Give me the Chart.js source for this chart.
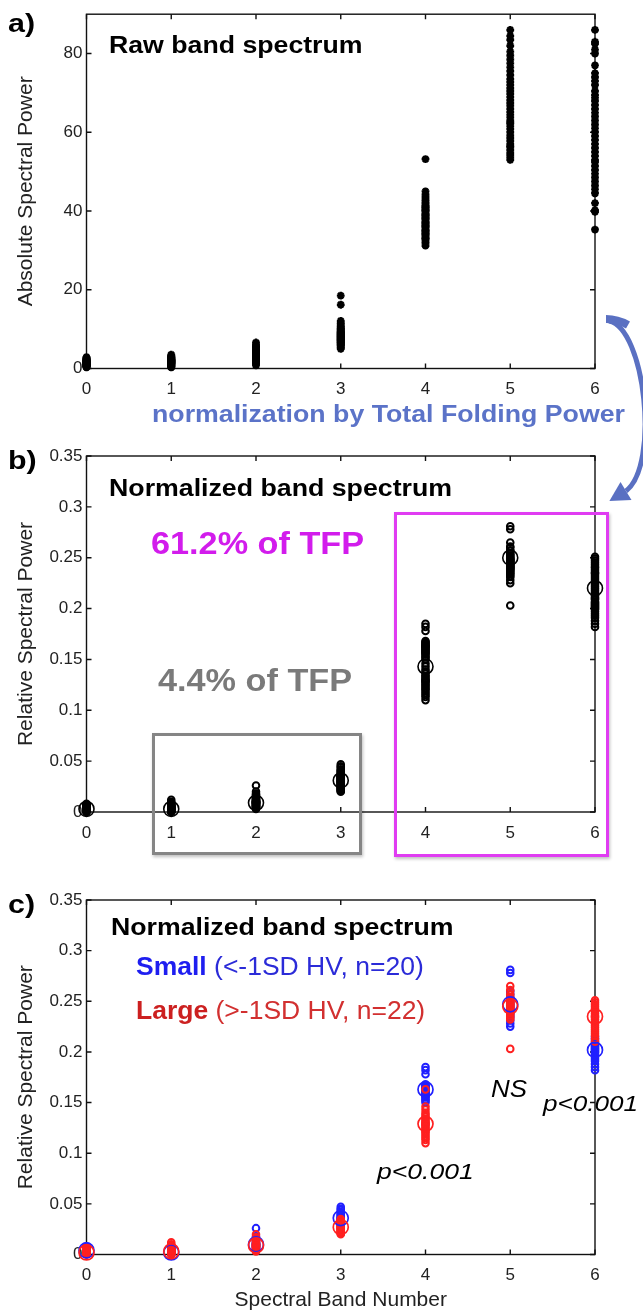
<!DOCTYPE html>
<html><head><meta charset="utf-8">
<script src="https://cdn.jsdelivr.net/npm/chart.js@4.4.1/dist/chart.umd.min.js"></script>
<style>
html,body{margin:0;padding:0;background:#fff;}
#wrap{position:relative;width:643px;height:1313px;overflow:hidden;background:#fff;}
canvas{position:absolute;left:0;}
.t{position:absolute;white-space:nowrap;line-height:1;transform-origin:0 0;font-family:'Liberation Sans',Arial,Helvetica,sans-serif;color:#000;}
.b{font-weight:bold;}
.i{font-style:italic;}
.box{position:absolute;box-sizing:border-box;}
</style></head>
<body><div id="wrap">
<canvas id="ca" width="643" height="440" style="top:0px"></canvas>
<canvas id="cb" width="643" height="440" style="top:440px"></canvas>
<canvas id="cc" width="643" height="433" style="top:880px"></canvas>

<div class="box" style="left:152px;top:733px;width:210px;height:122px;border:3.3px solid #858585;box-shadow:1px 2px 3px rgba(0,0,0,0.25);"></div>
<div class="box" style="left:394px;top:512px;width:215px;height:345px;border:3.3px solid #e03cf2;box-shadow:1px 2px 3px rgba(0,0,0,0.25);"></div>

<svg width="643" height="1313" style="position:absolute;left:0;top:0;pointer-events:none">
<defs><linearGradient id="ag" x1="0" y1="0" x2="1" y2="0">
<stop offset="0" stop-color="#8196dc"/><stop offset="1" stop-color="#4a60b6"/></linearGradient></defs>
<path d="M609 321 C645 328 660 465 626 491" fill="none" stroke="#5a70c2" stroke-width="5"/>
<path d="M606 319 C614 319 621 321 628 325" fill="none" stroke="#5a70c2" stroke-width="8"/>
<polygon points="609.4,501.1 631.5,499.9 620.5,482.1" fill="#5a70c2"/>
</svg>

<div class="t b" style="left:8px;top:9.7px;font-size:26px;transform:scaleX(1.17)">a)</div>
<div class="t b" style="left:8px;top:447px;font-size:26px;transform:scaleX(1.17)">b)</div>
<div class="t b" style="left:8px;top:891px;font-size:26px;transform:scaleX(1.17)">c)</div>

<div class="t b" style="left:109px;top:33.8px;font-size:23px;transform:scaleX(1.16)">Raw band spectrum</div>
<div class="t b" style="left:152px;top:401.7px;font-size:24px;color:#5b73c8;transform:scaleX(1.113)">normalization by Total Folding Power</div>

<div class="t b" style="left:109px;top:476.5px;font-size:23px;transform:scaleX(1.162)">Normalized band spectrum</div>
<div class="t b" style="left:150.7px;top:527.2px;font-size:32px;color:#d21cec;transform:scaleX(1.07)">61.2% of TFP</div>
<div class="t b" style="left:158px;top:663.9px;font-size:32px;color:#7a7a7a;transform:scaleX(1.07)">4.4% of TFP</div>

<div class="t b" style="left:110.7px;top:915.5px;font-size:23px;transform:scaleX(1.16)">Normalized band spectrum</div>
<div class="t" style="left:136px;top:952.6px;font-size:26.5px;color:#2b2bd8"><span class="b" style="color:#1e1ef0">Small</span> (&lt;-1SD HV, n=20)</div>
<div class="t" style="left:136px;top:996.6px;font-size:26.5px;color:#d23030"><span class="b" style="color:#cc2020">Large</span> (&gt;-1SD HV, n=22)</div>
<div class="t i" style="left:491px;top:1077px;font-size:24px;transform:scaleX(1.08)">NS</div>
<div class="t i" style="left:377px;top:1161px;font-size:22.5px;transform:scaleX(1.18)">p&lt;0.001</div>
<div class="t i" style="left:543px;top:1092.6px;font-size:22.5px;transform:scaleX(1.16)">p&lt;0.001</div>
</div>

<script>
const FONT = "'Liberation Sans', Arial, Helvetica, sans-serif";

// ---- categories & tick labels ----
const bandNumbers = [0, 1, 2, 3, 4, 5, 6];
const xTickLabels = ['0', '1', '2', '3', '4', '5', '6'];
const yTicksRaw = [0, 20, 40, 60, 80];
const yTickLabelsRaw = ['0', '20', '40', '60', '80'];
const yTicksRel = [0, 0.05, 0.1, 0.15, 0.2, 0.25, 0.3, 0.35];
const yTickLabelsRel = ['0', '0.05', '0.1', '0.15', '0.2', '0.25', '0.3', '0.35'];

// ---- a) absolute spectral power per band ----
const rawPower = [
  [0.3,0.5,0.6,0.8,0.9,1.0,1.1,1.1,1.2,1.3,1.3,1.4,1.5,1.5,1.6,1.7,1.7,1.8,1.9,2.0,2.0,2.1,2.2,2.3,2.5,2.7,2.9,0.4,0.7,1.0,1.2,1.4,1.6,1.9,0.8,1.3,1.1,1.5,0.6,2.4,1.8,1.0],
  [0.3,0.5,0.7,0.9,1.0,1.2,1.3,1.4,1.5,1.6,1.7,1.8,1.9,2.0,2.1,2.2,2.3,2.4,2.5,2.6,2.8,3.0,3.2,3.5,0.6,0.8,1.1,1.3,1.5,1.7,1.9,2.1,2.3,0.4,1.6,1.8,2.0,2.7,1.0,1.4,2.2,2.9],
  [0.8,1.1,1.4,1.7,2.0,2.2,2.4,2.6,2.8,3.0,3.1,3.2,3.3,3.4,3.5,3.6,3.7,3.8,3.9,4.0,4.2,4.4,4.6,4.8,5.0,5.3,5.7,6.1,6.6,2.5,2.9,3.3,3.6,4.1,4.5,1.9,2.7,3.0,3.4,3.8,4.3,5.5],
  [5.0,5.3,5.6,5.9,6.2,6.5,6.7,6.9,7.1,7.3,7.5,7.7,7.9,8.1,8.3,8.5,8.7,8.9,9.1,9.3,9.6,9.9,10.2,10.5,10.8,11.2,11.6,12.1,16.2,18.5,6.0,6.8,7.4,8.0,8.6,9.4,7.2,7.8,8.4,9.0,10.0,6.4],
  [31.2,31.8,32.3,32.8,33.2,33.6,34.0,34.4,34.8,35.2,35.6,36.0,36.4,36.8,37.2,37.6,38.0,38.4,38.8,39.2,39.6,40.0,40.4,40.8,41.2,41.6,42.0,42.5,43.0,43.6,44.2,45.0,53.2,33.0,35.0,37.0,39.0,41.0,34.2,36.2,38.2,40.2],
  [53.0,53.6,54.2,54.8,55.5,56.2,57.0,57.8,58.5,59.2,60.0,60.8,61.5,62.2,63.0,63.8,64.5,65.2,66.0,66.8,67.5,68.2,69.0,69.8,70.5,71.2,72.0,72.8,73.5,74.5,75.5,76.5,77.5,78.5,79.5,80.5,82.0,83.5,84.5,86.0,56.5,62.5],
  [35.3,39.8,40.2,42.0,44.5,45.5,46.5,47.5,48.5,49.5,50.5,51.5,52.5,54.0,55.0,56.0,57.0,58.0,59.0,60.0,61.0,62.0,63.0,64.0,65.0,66.0,67.0,68.0,68.8,69.5,70.5,72.0,73.0,74.0,75.0,77.0,80.0,81.0,82.5,83.0,86.0,53.0]
];

// ---- c) relative spectral power, small HV group (n=20) ----
const smallGroup = [
  [0.001,0.002,0.002,0.003,0.003,0.004,0.004,0.004,0.005,0.005,0.005,0.006,0.006,0.006,0.007,0.007,0.008,0.003,0.004,0.005],
  [0.000,0.001,0.001,0.001,0.002,0.002,0.002,0.002,0.003,0.003,0.003,0.003,0.004,0.004,0.005,0.005,0.006,0.007,0.002,0.003],
  [0.004,0.005,0.006,0.007,0.008,0.008,0.009,0.009,0.010,0.010,0.011,0.011,0.012,0.013,0.014,0.015,0.016,0.018,0.026,0.010],
  [0.029,0.030,0.031,0.032,0.033,0.033,0.034,0.035,0.035,0.036,0.036,0.037,0.038,0.039,0.040,0.041,0.042,0.044,0.045,0.047],
  [0.150,0.152,0.153,0.155,0.156,0.157,0.158,0.159,0.160,0.161,0.162,0.163,0.164,0.165,0.166,0.167,0.168,0.178,0.182,0.185],
  [0.225,0.228,0.231,0.234,0.236,0.238,0.240,0.241,0.243,0.244,0.246,0.247,0.248,0.250,0.252,0.254,0.257,0.260,0.278,0.281],
  [0.182,0.185,0.188,0.191,0.193,0.195,0.197,0.199,0.200,0.201,0.202,0.203,0.204,0.205,0.206,0.207,0.209,0.211,0.213,0.215]
];

// ---- c) relative spectral power, large HV group (n=22) ----
const largeGroup = [
  [0.000,0.000,0.001,0.001,0.001,0.001,0.002,0.002,0.002,0.002,0.002,0.003,0.003,0.003,0.003,0.004,0.004,0.004,0.005,0.005,0.006,0.007],
  [0.000,0.001,0.001,0.001,0.002,0.002,0.002,0.003,0.003,0.003,0.003,0.004,0.004,0.004,0.005,0.005,0.006,0.007,0.008,0.009,0.010,0.012],
  [0.003,0.004,0.005,0.005,0.006,0.006,0.007,0.007,0.008,0.008,0.009,0.009,0.009,0.010,0.010,0.011,0.012,0.013,0.014,0.015,0.017,0.020],
  [0.020,0.021,0.021,0.022,0.023,0.023,0.024,0.025,0.025,0.026,0.026,0.027,0.027,0.028,0.029,0.029,0.030,0.031,0.032,0.033,0.034,0.035],
  [0.110,0.113,0.115,0.117,0.119,0.121,0.122,0.124,0.125,0.127,0.128,0.129,0.130,0.131,0.133,0.134,0.136,0.138,0.140,0.143,0.146,0.163],
  [0.203,0.232,0.234,0.236,0.238,0.239,0.240,0.241,0.242,0.243,0.244,0.245,0.246,0.247,0.248,0.249,0.250,0.252,0.254,0.257,0.261,0.265],
  [0.210,0.213,0.216,0.218,0.220,0.222,0.224,0.226,0.228,0.230,0.232,0.234,0.235,0.236,0.238,0.240,0.241,0.243,0.245,0.247,0.249,0.251]
];

// ---- group means (large circles) ----
const meanAll   = [0.003, 0.003, 0.009, 0.031, 0.143, 0.250, 0.220];
const meanSmall = [0.004, 0.002, 0.010, 0.036, 0.163, 0.247, 0.202];
const meanLarge = [0.002, 0.003, 0.009, 0.027, 0.129, 0.245, 0.235];

// ---- helpers ----
function toPoints(groups) {
  return groups.flatMap((vals, i) => vals.map(v => ({ x: bandNumbers[i], y: v })));
}
function meanPoints(arr) {
  return arr.map((v, i) => ({ x: bandNumbers[i], y: v }));
}

const frame = {
  id: 'frame',
  beforeDatasetsDraw(chart) {
    const { ctx, chartArea: a, scales: { x, y } } = chart;
    ctx.save();
    ctx.strokeStyle = '#111';
    ctx.lineWidth = 1.4;
    ctx.strokeRect(a.left, a.top, a.right - a.left, a.bottom - a.top);
    const L = 5;
    ctx.beginPath();
    x.ticks.forEach(t => {
      const p = x.getPixelForValue(t.value);
      ctx.moveTo(p, a.bottom); ctx.lineTo(p, a.bottom - L);
      ctx.moveTo(p, a.top); ctx.lineTo(p, a.top + L);
    });
    y.ticks.forEach(t => {
      const p = y.getPixelForValue(t.value);
      ctx.moveTo(a.left, p); ctx.lineTo(a.left + L, p);
      ctx.moveTo(a.right, p); ctx.lineTo(a.right - L, p);
    });
    ctx.stroke();
    ctx.restore();
  }
};

function makeChart(id, datasets, o) {
  return new Chart(document.getElementById(id), {
    type: 'scatter',
    data: { datasets },
    options: {
      responsive: false, animation: false, devicePixelRatio: 1,
      layout: { padding: { left: 0, right: 48, top: o.top, bottom: 0 } },
      plugins: { legend: { display: false }, tooltip: { enabled: false } },
      scales: {
        x: {
          type: 'linear', min: 0, max: 6,
          afterBuildTicks: s => { s.ticks = bandNumbers.map(v => ({ value: v })); },
          afterFit: s => { s.height = o.xh; },
          grid: { display: false, drawTicks: false }, border: { display: false },
          ticks: { padding: 11, color: '#222', font: { family: FONT, size: 17 }, maxRotation: 0, autoSkip: false,
                   callback: (v, i) => xTickLabels[i] },
          title: o.xTitle ? { display: true, text: o.xTitle, color: '#222', font: { family: FONT, size: 21 }, padding: { top: 0, bottom: 0 } } : { display: false }
        },
        y: {
          type: 'linear', min: 0, max: o.ymax,
          afterBuildTicks: s => { s.ticks = o.yTicks.map(v => ({ value: v })); },
          afterFit: s => { s.width = 86.5; },
          grid: { display: false, drawTicks: false }, border: { display: false },
          ticks: { padding: 4, color: '#222', font: { family: FONT, size: 17 }, autoSkip: false,
                   callback: (v, i) => o.yLabels[i] },
          title: { display: true, text: o.yTitle, color: '#222', font: { family: FONT, size: 21 }, padding: { top: 14, bottom: 0 } }
        }
      }
    },
    plugins: [frame]
  });
}

// a)
makeChart('ca', [{
  data: toPoints(rawPower), clip: false,
  pointStyle: 'star', pointRadius: 3.9, pointBorderWidth: 2.4,
  pointBorderColor: '#000', pointBackgroundColor: '#000'
}], { top: 13.3, xh: 71.5, ymax: 90, yTicks: yTicksRaw, yLabels: yTickLabelsRaw, yTitle: 'Absolute Spectral Power' });

// b)
makeChart('cb', [
  { data: meanPoints(meanAll), clip: false, pointRadius: 7.5, pointBorderWidth: 1.6,
    pointBorderColor: '#000', pointBackgroundColor: 'rgba(0,0,0,0)' },
  { data: toPoints(smallGroup).concat(toPoints(largeGroup)), clip: false, pointRadius: 3.3, pointBorderWidth: 2,
    pointBorderColor: '#000', pointBackgroundColor: 'rgba(0,0,0,0)' }
], { top: 16, xh: 68, ymax: 0.35, yTicks: yTicksRel, yLabels: yTickLabelsRel, yTitle: 'Relative Spectral Power' });

// c)
makeChart('cc', [
  { data: meanPoints(meanLarge), clip: false, pointRadius: 7.5, pointBorderWidth: 1.7,
    pointBorderColor: '#ff2020', pointBackgroundColor: 'rgba(0,0,0,0)' },
  { data: meanPoints(meanSmall), clip: false, pointRadius: 7.5, pointBorderWidth: 1.7,
    pointBorderColor: '#2020ff', pointBackgroundColor: 'rgba(0,0,0,0)' },
  { data: toPoints(largeGroup), clip: false, pointRadius: 3.3, pointBorderWidth: 2,
    pointBorderColor: '#ff2020', pointBackgroundColor: 'rgba(0,0,0,0)' },
  { data: toPoints(smallGroup), clip: false, pointRadius: 3.3, pointBorderWidth: 2,
    pointBorderColor: '#2020ff', pointBackgroundColor: 'rgba(0,0,0,0)' }
], { top: 20, xh: 58.5, ymax: 0.35, yTicks: yTicksRel, yLabels: yTickLabelsRel, yTitle: 'Relative Spectral Power', xTitle: 'Spectral Band Number' });
</script>
</body></html>
